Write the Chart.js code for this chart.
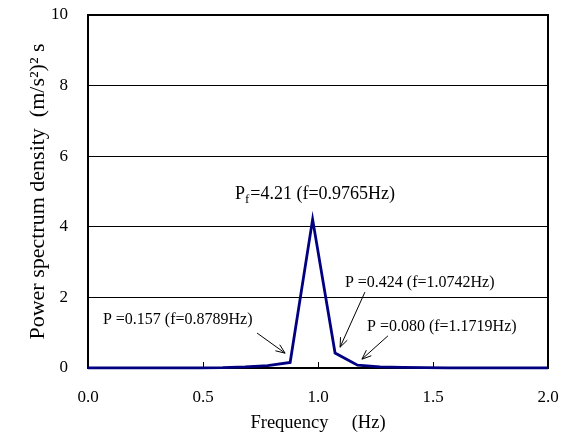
<!DOCTYPE html>
<html>
<head>
<meta charset="utf-8">
<script src="https://cdn.jsdelivr.net/npm/chart.js@4.4.1/dist/chart.umd.min.js"></script>
<style>
    html, body { margin: 0; padding: 0; background: #fff; }
    #wrap { width: 562px; height: 434px; }
</style>
</head>
<body>
<div id="wrap"><canvas id="psdChart" width="562" height="434"></canvas></div>
<script>
    // frequency bins (Hz) and power spectrum density (m/s^2)^2 s
    var freq = [0, 0.0977, 0.1953, 0.2930, 0.3906, 0.4883, 0.5859, 0.6836, 0.7813, 0.8789, 0.9766,
                1.0742, 1.1719, 1.2695, 1.3672, 1.4648, 1.5625, 1.6602, 1.7578, 1.8555, 1.9531, 2.0508];
    var psd = [0.001, 0.001, 0.001, 0.002, 0.002, 0.004, 0.008, 0.03, 0.07, 0.157, 4.21,
               0.424, 0.080, 0.03, 0.015, 0.008, 0.005, 0.004, 0.003, 0.002, 0.002, 0.002];
    var xTicks = [0, 0.5, 1.0, 1.5, 2.0];
    var yTicks = [0, 2, 4, 6, 8, 10];
    var peakText = ['=4.21 (f=0.9765Hz)', 'P =0.157 (f=0.8789Hz)', 'P =0.424 (f=1.0742Hz)', 'P =0.080 (f=1.1719Hz)'];

    var serif = "'Liberation Serif', 'Times New Roman', serif";

    function arrow(ctx, x1, y1, x2, y2) {
        var ang = Math.atan2(y2 - y1, x2 - x1), h = 10;
        ctx.beginPath();
        ctx.moveTo(x1, y1);
        ctx.lineTo(x2, y2);
        ctx.moveTo(x2 - h * Math.cos(ang - 0.38), y2 - h * Math.sin(ang - 0.38));
        ctx.lineTo(x2, y2);
        ctx.lineTo(x2 - h * Math.cos(ang + 0.38), y2 - h * Math.sin(ang + 0.38));
        ctx.stroke();
    }

    var framePlugin = {
        id: 'frame',
        beforeDatasetsDraw: function (chart) {
            var a = chart.chartArea, ctx = chart.ctx, xs = chart.scales.x;
            ctx.save();
            ctx.strokeStyle = '#000';
            ctx.lineWidth = 2;
            ctx.strokeRect(a.left, a.top, a.right - a.left, a.bottom - a.top);
            // small inward ticks on x axis
            ctx.lineWidth = 1;
            xTicks.slice(1, -1).forEach(function (v) {
                var px = Math.round(xs.getPixelForValue(v)) + 0.5;
                ctx.beginPath();
                ctx.moveTo(px, a.bottom);
                ctx.lineTo(px, a.bottom - 6);
                ctx.stroke();
            });
            ctx.restore();
        },
        afterDraw: function (chart) {
            var ctx = chart.ctx, xs = chart.scales.x, ys = chart.scales.y;
            function X(v) { return xs.getPixelForValue(v); }
            function Y(v) { return ys.getPixelForValue(v); }
            ctx.save();
            ctx.fillStyle = '#000';
            ctx.strokeStyle = '#000';
            ctx.lineWidth = 1;
            ctx.textBaseline = 'middle';
            ctx.textAlign = 'left';

            // peak label with subscript
            var px = X(0.639), py = Y(4.93);
            ctx.font = '18px ' + serif;
            ctx.fillText('P', px, py);
            var w = ctx.measureText('P').width;
            ctx.font = '13px ' + serif;
            ctx.fillText('f', px + w, py + 6);
            var w2 = ctx.measureText('f').width;
            ctx.font = '18px ' + serif;
            ctx.fillText(peakText[0], px + w + w2 + 1, py);

            ctx.font = '16px ' + serif;
            ctx.fillText(peakText[1], X(0.065), Y(1.36));
            ctx.fillText(peakText[2], X(1.117), Y(2.42));
            ctx.fillText(peakText[3], X(1.213), Y(1.16));

            arrow(ctx, X(0.735), Y(0.99), X(0.857), Y(0.42));
            arrow(ctx, X(1.204), Y(2.15), X(1.096), Y(0.59));
            arrow(ctx, X(1.304), Y(0.91), X(1.191), Y(0.25));
            ctx.restore();
        }
    };

    var ctx = document.getElementById('psdChart').getContext('2d');
    var chart = new Chart(ctx, {
        type: 'line',
        data: {
            datasets: [{
                label: 'PSD',
                data: freq.map(function (f, i) { return { x: f, y: psd[i] }; }),
                borderColor: '#000080',
                borderWidth: 2.8,
                pointRadius: 0,
                tension: 0,
                fill: false,
                clip: { left: 2, top: 2, right: 0, bottom: 5 }
            }]
        },
        options: {
            responsive: false,
            animation: false,
            devicePixelRatio: 1,
            layout: { padding: { top: 15, right: 14, bottom: 0, left: 0 } },
            plugins: {
                legend: { display: false },
                tooltip: { enabled: false }
            },
            scales: {
                x: {
                    type: 'linear',
                    min: 0,
                    max: 2,
                    afterBuildTicks: function (s) { s.ticks = xTicks.map(function (v) { return { value: v }; }); },
                    afterFit: function (s) { s.height = 66; s.paddingLeft = 0; s.paddingRight = 0; },
                    grid: { display: false, drawTicks: false },
                    border: { display: false },
                    ticks: {
                        color: '#000',
                        padding: 19,
                        maxRotation: 0,
                        font: { family: serif, size: 17 },
                        callback: function (v) { return Number(v).toFixed(1); }
                    },
                    title: {
                        display: true,
                        text: 'Frequency     (Hz)',
                        color: '#000',
                        font: { family: serif, size: 18.5 },
                        padding: { top: 0, bottom: 0 }
                    }
                },
                y: {
                    min: 0,
                    max: 10,
                    afterBuildTicks: function (s) { s.ticks = yTicks.map(function (v) { return { value: v }; }); },
                    afterFit: function (s) { s.width = 88; s.paddingTop = 0; s.paddingBottom = 0; },
                    grid: {
                        drawTicks: false,
                        lineWidth: 1,
                        color: function (c) {
                            var v = c.tick ? c.tick.value : 0;
                            return (v > 0 && v < 10) ? '#000' : 'rgba(0,0,0,0)';
                        }
                    },
                    border: { display: false },
                    ticks: {
                        color: '#000',
                        padding: 20,
                        font: { family: serif, size: 17 }
                    },
                    title: {
                        display: true,
                        text: 'Power spectrum density  (m/s\u00b2)\u00b2 s',
                        color: '#000',
                        font: { family: serif, size: 22 },
                        padding: { top: 25, bottom: 0 }
                    }
                }
            }
        },
        plugins: [framePlugin]
    });
</script>
</body>
</html>
